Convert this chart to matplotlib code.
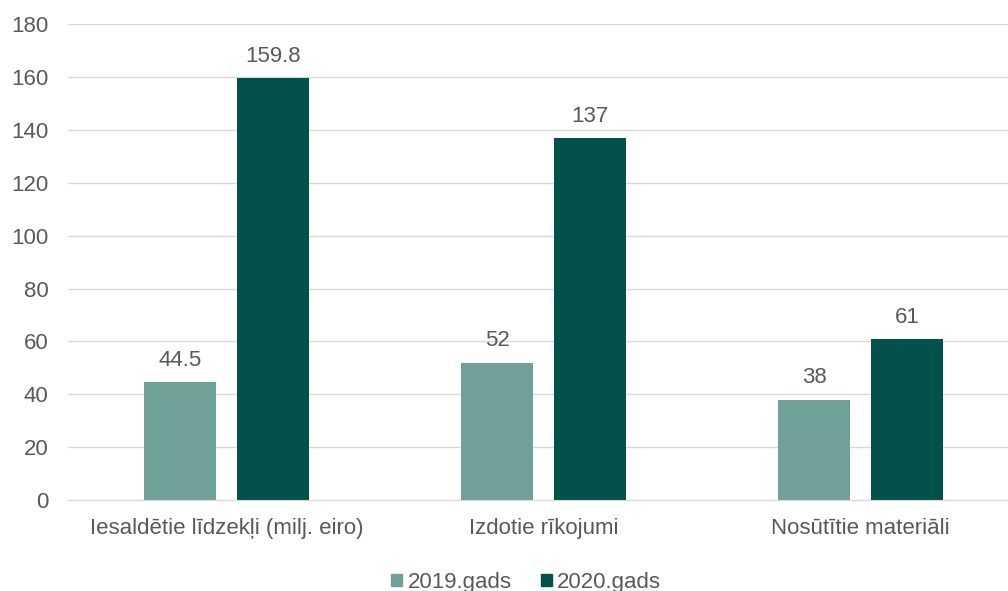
import numpy as np
import matplotlib.pyplot as plt
from matplotlib.patches import Patch

plt.rcParams['font.family'] = ['Liberation Sans', 'DejaVu Sans']

categories = ['Iesaldētie līdzekļi (milj. eiro)', 'Izdotie rīkojumi', 'Nosūtītie materiāli']
values_2019 = [44.5, 52, 38]
values_2020 = [159.8, 137, 61]
labels_2019 = ['44.5', '52', '38']
labels_2020 = ['159.8', '137', '61']
series_names = ['2019.gads', '2020.gads']

c2019 = '#6fa09a'
c2020 = '#02524b'
text_c = '#595959'
grid_c = '#d9d9d9'
fs = 16

fig = plt.figure(figsize=(10.08, 5.91), dpi=100)
ax = fig.add_axes([0.0675, 0.154, 0.9435, 0.805])

x = np.arange(len(categories))
w = 0.227
off = 0.146
b1 = ax.bar(x - off, values_2019, w, color=c2019, zorder=3)
b2 = ax.bar(x + off, values_2020, w, color=c2020, zorder=3)

# value labels above each bar
for bars, labs in ((b1, labels_2019), (b2, labels_2020)):
    for b, lab in zip(bars, labs):
        ax.annotate(lab, (b.get_x() + b.get_width() / 2, b.get_height()),
                    xytext=(0, 8), textcoords='offset points',
                    ha='center', va='bottom', fontsize=fs, color=text_c)

ax.set_xlim(-0.5, 2.5)
ax.set_ylim(0, 180)
ax.set_yticks(range(0, 181, 20))
ax.set_xticks(x)
ax.set_xticklabels(categories)
ax.tick_params(axis='both', length=0, labelsize=fs, labelcolor=text_c)
ax.tick_params(axis='x', pad=13)
ax.tick_params(axis='y', pad=14)
ax.yaxis.grid(True, color=grid_c, linewidth=1)
for s in ['top', 'right', 'left']:
    ax.spines[s].set_visible(False)
ax.spines['bottom'].set_color(grid_c)
ax.spines['bottom'].set_zorder(4)

handles = [Patch(color=c2019), Patch(color=c2020)]
fig.legend(handles, series_names, loc='lower center', ncol=2, frameon=False,
           fontsize=fs, labelcolor=text_c, handlelength=0.5, handleheight=0.5,
           handletextpad=0.25, columnspacing=1.3, bbox_to_anchor=(0.522, -0.037))

fig.savefig('out.png', dpi=100)
